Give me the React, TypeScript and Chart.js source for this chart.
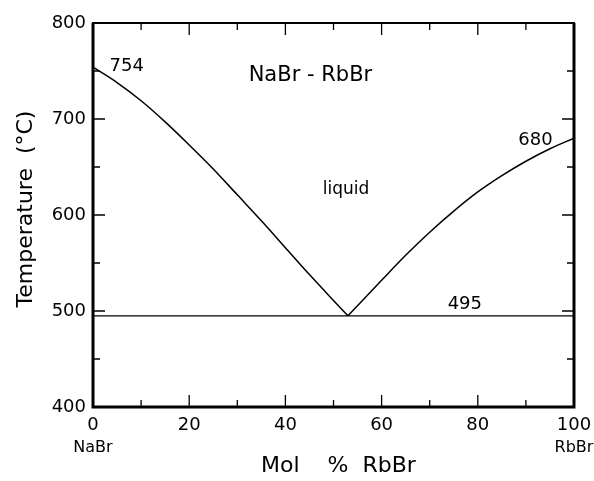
import React, { useEffect, useRef } from "react";
import { Chart, registerables } from "chart.js";

Chart.register(...registerables);

// ---- data ----
const leftComp = [0, 5, 10, 15, 20, 25, 30, 35, 40, 45, 50, 53];
const leftTemp = [754, 738, 719, 697, 673, 648, 621, 594, 566, 538, 511, 495];
const rightComp = [53, 60, 65, 70, 75, 80, 85, 90, 95, 100];
const rightTemp = [495, 532, 558, 582, 604, 624, 641, 656, 669, 680];
const eutecticComp = [0, 100];
const eutecticTemp = [495, 495];

const xMajorTicks = [0, 20, 40, 60, 80, 100];
const xMinorTicks = [10, 30, 50, 70, 90];
const yMajorTicks = [400, 500, 600, 700, 800];
const yMinorTicks = [450, 550, 650, 750];

const FONT = "'DejaVu Sans', sans-serif";

const annotations = [
  { text: "754", x: 7, y: 755, size: 18 },
  { text: "NaBr - RbBr", x: 45.2, y: 745, size: 21 },
  { text: "liquid", x: 52.6, y: 627, size: 17 },
  { text: "680", x: 92, y: 678, size: 18 },
  { text: "495", x: 77.3, y: 507, size: 18 },
];

const toPts = (xs: number[], ys: number[]) => xs.map((v, i) => ({ x: v, y: ys[i] }));

const decorPlugin = {
  id: "decor",
  afterDraw(chart: any) {
    const { ctx, chartArea } = chart;
    const { left, right, top, bottom } = chartArea;
    const xs = chart.scales.x;
    const ys = chart.scales.y;
    ctx.save();
    ctx.strokeStyle = "#000";
    ctx.fillStyle = "#000";
    ctx.lineCap = "butt";

    // frame
    ctx.lineWidth = 3;
    ctx.beginPath();
    ctx.moveTo(left, top);
    ctx.lineTo(left, bottom);
    ctx.lineTo(right, bottom);
    ctx.lineTo(right, top);
    ctx.stroke();
    ctx.lineWidth = 2;
    ctx.beginPath();
    ctx.moveTo(left - 1, top);
    ctx.lineTo(right + 1, top);
    ctx.stroke();

    // inward ticks
    ctx.lineWidth = 1.3;
    const major = 12;
    const minor = 7;
    const xt = (v: number, len: number) => {
      const px = xs.getPixelForValue(v);
      ctx.beginPath();
      ctx.moveTo(px, bottom);
      ctx.lineTo(px, bottom - len);
      ctx.moveTo(px, top);
      ctx.lineTo(px, top + len);
      ctx.stroke();
    };
    const yt = (v: number, len: number) => {
      const py = ys.getPixelForValue(v);
      ctx.beginPath();
      ctx.moveTo(left, py);
      ctx.lineTo(left + len, py);
      ctx.moveTo(right, py);
      ctx.lineTo(right - len, py);
      ctx.stroke();
    };
    xMajorTicks.slice(1, -1).forEach((v) => xt(v, major));
    xMinorTicks.forEach((v) => xt(v, minor));
    yMajorTicks.slice(1, -1).forEach((v) => yt(v, major));
    yMinorTicks.forEach((v) => yt(v, minor));

    // annotations
    ctx.textAlign = "center";
    ctx.textBaseline = "middle";
    annotations.forEach((a) => {
      ctx.font = `${a.size}px ${FONT}`;
      ctx.fillText(a.text, xs.getPixelForValue(a.x), ys.getPixelForValue(a.y));
    });

    // end-member labels
    ctx.font = `16px ${FONT}`;
    ctx.fillText("NaBr", xs.getPixelForValue(0), bottom + 41);
    ctx.fillText("RbBr", xs.getPixelForValue(100), bottom + 41);

    // axis titles
    ctx.font = `22px ${FONT}`;
    ctx.fillText("Mol    %  RbBr", (left + right) / 2 + 5, bottom + 59);
    ctx.save();
    ctx.translate(26, (top + bottom) / 2 - 6);
    ctx.rotate(-Math.PI / 2);
    ctx.fillText("Temperature  (°C)", 0, 0);
    ctx.restore();

    ctx.restore();
  },
};

export default function App() {
  const ref = useRef<HTMLCanvasElement | null>(null);
  useEffect(() => {
    if (!ref.current) return;
    const lineStyle = {
      showLine: true,
      pointRadius: 0,
      borderColor: "#000",
      borderWidth: 1.5,
      fill: false,
      cubicInterpolationMode: "monotone" as const,
    };
    const chart = new Chart(ref.current, {
      type: "scatter",
      data: {
        datasets: [
          { label: "liquidus NaBr", data: toPts(leftComp, leftTemp), ...lineStyle },
          { label: "liquidus RbBr", data: toPts(rightComp, rightTemp), ...lineStyle },
          { label: "eutectic", data: toPts(eutecticComp, eutecticTemp), ...lineStyle, borderWidth: 1.3 },
        ],
      },
      options: {
        animation: false,
        responsive: false,
        devicePixelRatio: 1,
        layout: { padding: { top: 23, right: 20, left: 0, bottom: 0 } },
        plugins: { legend: { display: false }, tooltip: { enabled: false } },
        scales: {
          x: {
            type: "linear",
            min: 0,
            max: 100,
            afterBuildTicks: (s: any) => {
              s.ticks = xMajorTicks.map((v) => ({ value: v }));
            },
            afterFit: (s: any) => {
              s.height = 74;
              s.paddingLeft = 0;
              s.paddingRight = 0;
            },
            grid: { display: false, drawTicks: false },
            border: { display: false },
            ticks: {
              color: "#000",
              padding: 8,
              maxRotation: 0,
              font: { family: FONT, size: 18 },
            },
          },
          y: {
            type: "linear",
            min: 400,
            max: 800,
            afterBuildTicks: (s: any) => {
              s.ticks = yMajorTicks.map((v) => ({ value: v }));
            },
            afterFit: (s: any) => {
              s.width = 93;
              s.paddingTop = 0;
              s.paddingBottom = 0;
            },
            grid: { display: false, drawTicks: false },
            border: { display: false },
            ticks: {
              color: "#000",
              padding: 7,
              font: { family: FONT, size: 18 },
            },
          },
        },
      },
      plugins: [decorPlugin],
    });
    return () => chart.destroy();
  }, []);
  return (
    <div style={{ position: "absolute", left: 0, top: 0, width: 594, height: 481, background: "#fff" }}>
      <canvas ref={ref} width={594} height={481} style={{ width: 594, height: 481, display: "block" }} />
    </div>
  );
}
